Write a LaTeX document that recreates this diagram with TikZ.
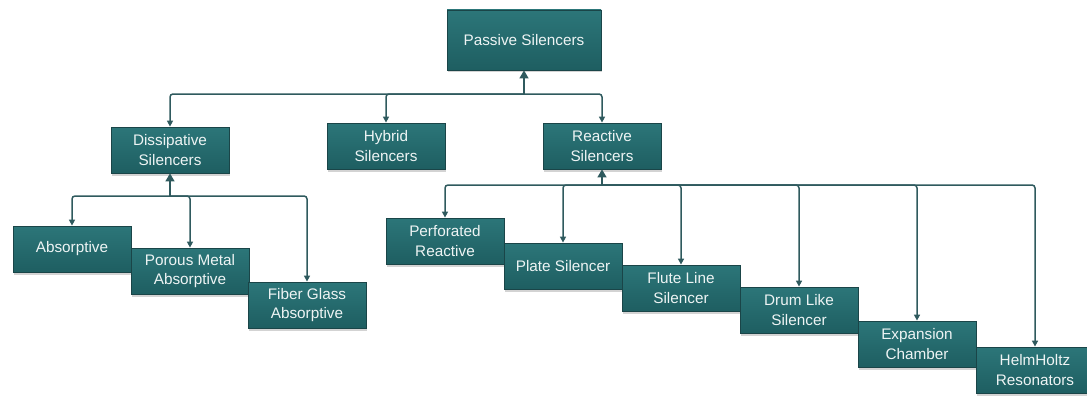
\documentclass[tikz,border=0pt]{standalone}
\usepackage{fontspec}
\setmainfont{Liberation Sans}
\usetikzlibrary{arrows.meta,calc,shadows}
\definecolor{boxtop}{HTML}{2C7679}
\definecolor{boxbot}{HTML}{1E5E61}
\definecolor{boxline}{HTML}{1A4548}
\definecolor{wire}{HTML}{2F5A5E}
\definecolor{label}{HTML}{EEF4F4}

\tikzset{
  silbox/.style={draw=boxline,line width=0.8pt,top color=boxtop,bottom color=boxbot,
    minimum width=118pt,minimum height=46pt,align=center,text=label,font=\fontsize{15.3}{19.5}\selectfont,
    drop shadow={shadow xshift=1pt,shadow yshift=-2.5pt,opacity=0.35}},
  feed/.style={draw=wire,line width=1.5pt,{Triangle[width=9pt,length=8pt]}-},
  link/.style={draw=wire,line width=1.5pt,rounded corners=3pt,-{Triangle[width=6pt,length=6pt]}}
}

\begin{document}
\begin{tikzpicture}[x=1pt,y=-1pt]
\useasboundingbox (0,0) rectangle (1087,396);
% top level
\node[silbox,minimum width=154pt,minimum height=60pt] (pas) at (524,40) {Passive Silencers};
\node[silbox] (dis) at (170,150) {Dissipative\\Silencers};
\node[silbox] (hyb) at (386,146) {Hybrid\\Silencers};
\node[silbox] (rea) at (602,146) {Reactive\\Silencers};
% dissipative branch
\node[silbox] (abs) at (72,249) {Absorptive};
\node[silbox] (por) at (190,271) {Porous Metal\\Absorptive};
\node[silbox] (fib) at (307,305) {Fiber Glass\\Absorptive};
% reactive branch
\node[silbox] (per) at (445,241) {Perforated\\Reactive};
\node[silbox] (pla) at (563,266) {Plate Silencer};
\node[silbox] (flu) at (681,288) {Flute Line\\Silencer};
\node[silbox] (dru) at (799,310) {Drum Like\\Silencer};
\node[silbox] (exp) at (917,344) {Expansion\\Chamber};
\node[silbox] (hel) at (1035,370) {HelmHoltz\\Resonators};

\coordinate (busP) at (524,94);
\coordinate (busD) at (170,196);
\coordinate (busR) at (602,185);

\draw[feed] (pas.south) -- (busP);
\foreach \c in {dis,hyb,rea} \draw[link] (busP) -| (\c.north);
\draw[feed] (dis.south) -- (busD);
\foreach \c in {abs,por,fib} \draw[link] (busD) -| (\c.north);
\draw[feed] (rea.south) -- (busR);
\foreach \c in {per,pla,flu,dru,exp,hel} \draw[link] (busR) -| (\c.north);
\end{tikzpicture}
\end{document}
